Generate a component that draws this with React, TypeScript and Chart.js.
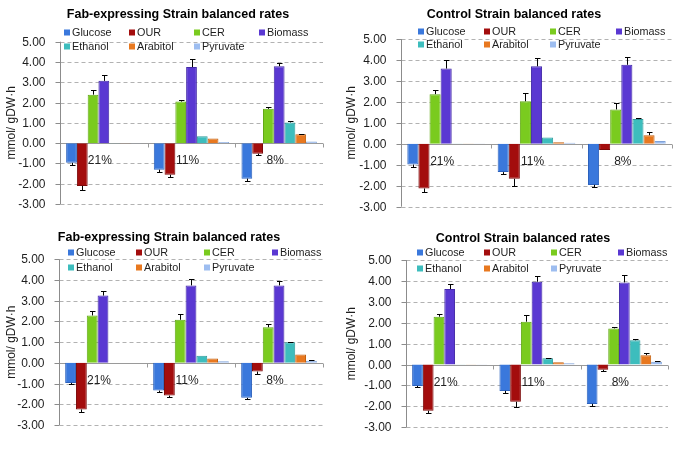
import React, { useEffect, useRef } from "react";
import { Chart, registerables } from "chart.js";
Chart.register(...registerables);

// ---------- data ----------
const categories = ["21%", "11%", "8%"];
const seriesNames = ["Glucose", "OUR", "CER", "Biomass", "Ethanol", "Arabitol", "Pyruvate"];
const seriesColors = ["#3a78dc", "#a30d0d", "#7acb1f", "#5a38d2", "#3dbdbd", "#e8781f", "#9dbdf0"];
const seriesBorders = ["#2c62bd", "#7c0808", "#62a816", "#432aa8", "#2e9c9c", "#c3600f", "#7fa2d8"];
const yTicks = [5, 4, 3, 2, 1, 0, -1, -2, -3];
const yTitle = "mmol/ gDW·h";
const titleFab = "Fab-expressing Strain balanced rates";
const titleControl = "Control Strain balanced rates";

// rows: Glucose, OUR, CER, Biomass, Ethanol, Arabitol, Pyruvate ; columns: 21%, 11%, 8%
const fabTopValues = [
  [-0.97, -1.31, -1.75],
  [-2.11, -1.56, -0.52],
  [2.39, 2.05, 1.69],
  [3.07, 3.75, 3.79],
  [0.01, 0.34, 1.02],
  [0.01, 0.23, 0.44],
  [0.01, 0.06, 0.08],
];
const fabTopErrors = [
  [0.1, 0.1, 0.1],
  [0.2, 0.1, 0.08],
  [0.23, 0.1, 0.08],
  [0.3, 0.38, 0.15],
  [0, 0, 0.05],
  [0, 0, 0.02],
  [0, 0, 0],
];
const controlTopValues = [
  [-0.99, -1.35, -1.96],
  [-2.13, -1.67, -0.29],
  [2.37, 2.03, 1.64],
  [3.59, 3.7, 3.77],
  [0.01, 0.3, 1.18],
  [0.01, 0.08, 0.41],
  [0.01, 0.05, 0.13],
];
const controlTopErrors = [
  [0.11, 0.07, 0.1],
  [0.18, 0.35, 0],
  [0.19, 0.41, 0.29],
  [0.4, 0.37, 0.38],
  [0, 0, 0.03],
  [0, 0, 0.14],
  [0, 0, 0],
];
const fabBottomValues = [
  [-0.97, -1.34, -1.69],
  [-2.25, -1.58, -0.42],
  [2.29, 2.08, 1.72],
  [3.25, 3.74, 3.74],
  [0.01, 0.34, 1.0],
  [0.01, 0.21, 0.4],
  [0.01, 0.08, 0.1],
];
const fabBottomErrors = [
  [0.06, 0.08, 0.05],
  [0.13, 0.06, 0.11],
  [0.19, 0.29, 0.16],
  [0.21, 0.29, 0.19],
  [0, 0, 0.03],
  [0, 0, 0],
  [0, 0, 0.02],
];
const controlBottomValues = [
  [-1.02, -1.26, -1.88],
  [-2.21, -1.78, -0.25],
  [2.29, 2.05, 1.73],
  [3.61, 3.96, 3.93],
  [0.01, 0.3, 1.16],
  [0.01, 0.11, 0.45],
  [0.01, 0.06, 0.13],
];
const controlBottomErrors = [
  [0.06, 0.1, 0.08],
  [0.13, 0.27, 0.06],
  [0.11, 0.3, 0.06],
  [0.25, 0.27, 0.35],
  [0, 0.03, 0.06],
  [0, 0, 0.11],
  [0, 0, 0.02],
];

const FONT = '"Liberation Sans", Arial, sans-serif';

type PanelProps = {
  title: string;
  values: number[][];
  errors: number[][];
  left: number; top: number; width: number; height: number;
  area: { l: number; r: number; t: number; b: number };
  titleX: number; titleY: number;
  legX: number; legDx: number; legY: number; legDy: number;
};

function Panel(p: PanelProps) {
  const ref = useRef<HTMLCanvasElement | null>(null);
  useEffect(() => {
    if (!ref.current) return;
    const decor = {
      id: "decor",
      beforeDatasetsDraw(chart: any) {
        const { ctx, chartArea: a, scales } = chart;
        const y = scales.y;
        ctx.save();
        const ax = Math.round(a.left) + 0.5;
        // dashed grid
        ctx.lineWidth = 1;
        ctx.strokeStyle = "#b2b2b2";
        ctx.setLineDash([4, 3]);
        for (const t of yTicks) {
          if (t === 0) continue;
          const py = Math.round(y.getPixelForValue(t)) + 0.5;
          ctx.beginPath();
          ctx.moveTo(ax, py);
          ctx.lineTo(a.right, py);
          ctx.stroke();
        }
        ctx.setLineDash([]);
        // zero line
        ctx.strokeStyle = "#9a9a9a";
        const zy = Math.round(y.getPixelForValue(0)) + 0.5;
        ctx.beginPath();
        ctx.moveTo(ax, zy);
        ctx.lineTo(a.right, zy);
        ctx.stroke();
        const cw = (a.right - a.left) / categories.length;
        for (let i = 1; i <= categories.length; i++) {
          const px = Math.round(a.left + i * cw) + 0.5;
          ctx.beginPath();
          ctx.moveTo(px, zy);
          ctx.lineTo(px, zy + 4);
          ctx.stroke();
        }
        // axis line + ticks
        ctx.strokeStyle = "#8c8c8c";
        ctx.beginPath();
        ctx.moveTo(ax, y.getPixelForValue(5));
        ctx.lineTo(ax, y.getPixelForValue(-3));
        ctx.stroke();
        ctx.fillStyle = "#1e1e1e";
        ctx.font = `12px ${FONT}`;
        ctx.textAlign = "right";
        ctx.textBaseline = "middle";
        for (const t of yTicks) {
          const py = Math.round(y.getPixelForValue(t)) + 0.5;
          ctx.beginPath();
          ctx.moveTo(ax - 5, py);
          ctx.lineTo(ax, py);
          ctx.stroke();
          ctx.fillText(t.toFixed(2), ax - 15, py);
        }
        ctx.restore();
      },
      afterDatasetsDraw(chart: any) {
        const { ctx, scales } = chart;
        const y = scales.y;
        const x = scales.x;
        ctx.save();
        // error bars
        ctx.strokeStyle = "#000";
        ctx.lineWidth = 1;
        chart.data.datasets.forEach((ds: any, di: number) => {
          const meta = chart.getDatasetMeta(di);
          meta.data.forEach((bar: any, i: number) => {
            const v = ds.data[i];
            const e = p.errors[di][i];
            if (!e) return;
            const end = v >= 0 ? v + e : v - e;
            const px = Math.round(bar.x) + 0.5;
            const y1 = y.getPixelForValue(v);
            const y2 = Math.round(y.getPixelForValue(end)) + 0.5;
            ctx.beginPath();
            ctx.moveTo(px, y1);
            ctx.lineTo(px, y2);
            ctx.moveTo(px - 2.5, y2);
            ctx.lineTo(px + 3, y2);
            ctx.stroke();
          });
        });
        // percent labels
        ctx.fillStyle = "#222";
        ctx.font = `12px ${FONT}`;
        ctx.textAlign = "center";
        ctx.textBaseline = "middle";
        categories.forEach((c, i) => {
          ctx.fillText(c, x.getPixelForValue(i) - 4, y.getPixelForValue(-0.85));
        });
        ctx.restore();
      },
      afterDraw(chart: any) {
        const { ctx, chartArea: a } = chart;
        ctx.save();
        // title
        ctx.fillStyle = "#000";
        ctx.font = `bold 12.5px ${FONT}`;
        ctx.textAlign = "center";
        ctx.textBaseline = "middle";
        ctx.fillText(p.title, p.titleX, p.titleY);
        // legend
        ctx.font = `10.8px ${FONT}`;
        ctx.textAlign = "left";
        seriesNames.forEach((n, i) => {
          const col = i % 4;
          const row = Math.floor(i / 4);
          const lx = p.legX + col * p.legDx;
          const ly = p.legY + row * p.legDy;
          ctx.fillStyle = seriesColors[i];
          ctx.fillRect(lx, ly - 3.5, 6, 6);
          ctx.fillStyle = "#1e1e1e";
          ctx.fillText(n, lx + 8, ly);
        });
        // y title
        ctx.translate(12, (a.top + a.bottom) / 2);
        ctx.rotate(-Math.PI / 2);
        ctx.textAlign = "center";
        ctx.font = `12px ${FONT}`;
        ctx.fillStyle = "#1e1e1e";
        ctx.fillText(yTitle, 0, 0);
        ctx.restore();
      },
    };
    const chart = new Chart(ref.current, {
      type: "bar",
      data: {
        labels: categories,
        datasets: seriesNames.map((n, i) => ({
          label: n,
          data: p.values[i],
          backgroundColor: seriesColors[i],
          borderColor: seriesBorders[i],
          borderWidth: 1,
          borderSkipped: "start",
          categoryPercentage: 0.86,
          barPercentage: 1,
        })),
      },
      options: {
        animation: false,
        responsive: false,
        maintainAspectRatio: false,
        layout: {
          padding: {
            left: p.area.l,
            top: p.area.t,
            right: p.width - p.area.r,
            bottom: p.height - p.area.b,
          },
        },
        plugins: {
          legend: { display: false },
          title: { display: false },
          tooltip: { enabled: false },
        },
        scales: {
          x: { display: false, offset: true },
          y: { display: false, min: -3, max: 5 },
        },
      },
      plugins: [decor],
    } as any);
    return () => chart.destroy();
  }, []);
  return (
    <canvas
      ref={ref}
      width={p.width}
      height={p.height}
      style={{ position: "absolute", left: p.left, top: p.top, width: p.width, height: p.height }}
    />
  );
}

export default function App() {
  return (
    <div style={{ position: "absolute", left: 0, top: 0, width: 685, height: 449, background: "#fff" }}>
      <Panel
        title={titleFab} values={fabTopValues} errors={fabTopErrors}
        left={0} top={0} width={340} height={225}
        area={{ l: 60, r: 323, t: 41.7, b: 204 }}
        titleX={178} titleY={15}
        legX={64} legDx={65} legY={33} legDy={14}
      />
      <Panel
        title={titleControl} values={controlTopValues} errors={controlTopErrors}
        left={340} top={0} width={345} height={225}
        area={{ l: 61, r: 332, t: 39, b: 206.7 }}
        titleX={174} titleY={15}
        legX={78} legDx={66} legY={32} legDy={13}
      />
      <Panel
        title={titleFab} values={fabBottomValues} errors={fabBottomErrors}
        left={0} top={225} width={340} height={224}
        area={{ l: 59, r: 323, t: 34.3, b: 200 }}
        titleX={169} titleY={13}
        legX={68} legDx={68} legY={28} legDy={15}
      />
      <Panel
        title={titleControl} values={controlBottomValues} errors={controlBottomErrors}
        left={340} top={225} width={345} height={224}
        area={{ l: 66, r: 328, t: 35, b: 202.3 }}
        titleX={183} titleY={14}
        legX={77} legDx={67} legY={28} legDy={16}
      />
    </div>
  );
}
